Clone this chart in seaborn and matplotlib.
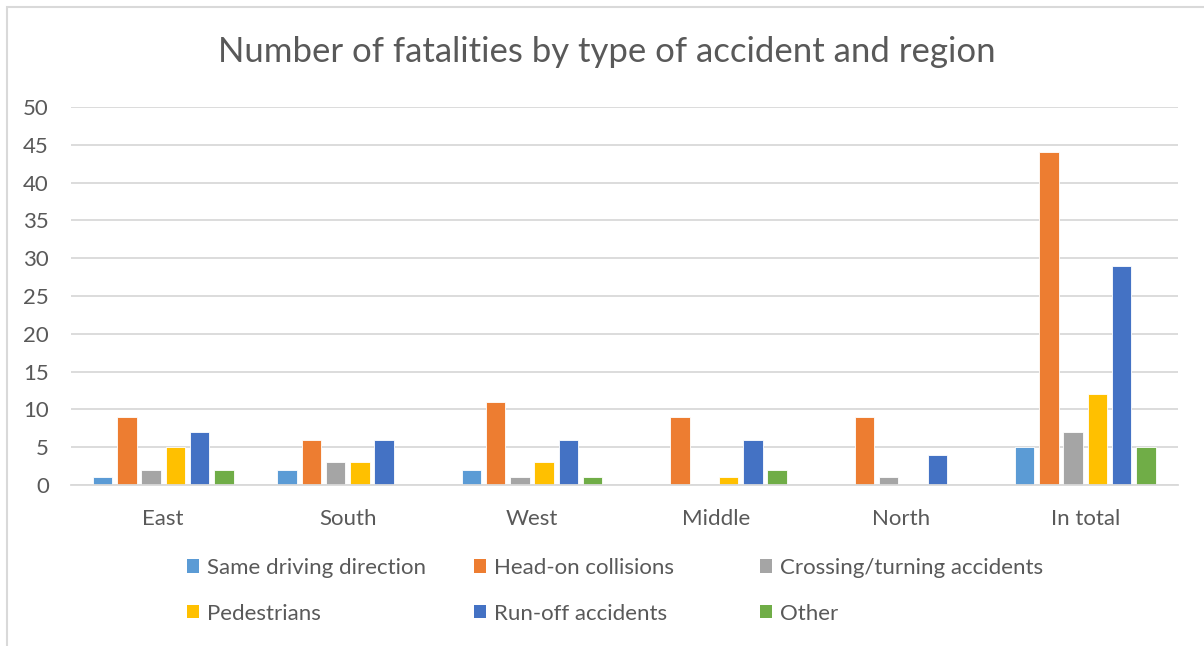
import numpy as np
import pandas as pd
import matplotlib
matplotlib.use('Agg')
import matplotlib.pyplot as plt
import seaborn as sns
from matplotlib.patches import Rectangle, Patch

# Data
regions = ['East', 'South', 'West', 'Middle', 'North', 'In total']
accident_types = ['Same driving direction', 'Head-on collisions', 'Crossing/turning accidents',
                  'Pedestrians', 'Run-off accidents', 'Other']
same_direction = [1, 2, 2, 0, 0, 5]
head_on = [9, 6, 11, 9, 9, 44]
crossing = [2, 3, 1, 0, 1, 7]
pedestrians = [5, 3, 3, 1, 0, 12]
run_off = [7, 6, 6, 6, 4, 29]
other = [2, 0, 1, 2, 0, 5]
colors = ['#5B9BD5', '#ED7D31', '#A5A5A5', '#FFC000', '#4472C4', '#70AD47']

series = [same_direction, head_on, crossing, pedestrians, run_off, other]
df = pd.DataFrame({
    'region': np.repeat([regions], len(accident_types), axis=0).ravel(),
    'type': np.repeat(accident_types, len(regions)),
    'value': np.concatenate(series),
})

sns.set_theme(style='white')
plt.rcParams['font.family'] = ['Lato', 'DejaVu Sans']
text_col = '#595959'

fig = plt.figure(figsize=(12.04, 6.46), dpi=100)
ax = fig.add_axes([0.059, 0.2492, 0.919, 0.5852])

sns.barplot(data=df, x='region', y='value', hue='type', order=regions,
            hue_order=accident_types, palette=colors, saturation=1,
            width=0.79, gap=0.2, edgecolor='white', linewidth=0.6,
            legend=False, ax=ax)

ax.set_ylim(0, 50)
ax.set_yticks(range(0, 51, 5))
ax.set_xlim(-0.5, len(regions) - 0.5)
ax.yaxis.grid(True, color='#D9D9D9', linewidth=1.3)
ax.set_axisbelow(True)
for s in ['top', 'right', 'left']:
    ax.spines[s].set_visible(False)
ax.spines['bottom'].set_color('#D9D9D9')
ax.spines['bottom'].set_linewidth(1.3)
ax.tick_params(axis='both', length=0, labelsize=16, labelcolor=text_col)
ax.tick_params(axis='y', pad=16)
ax.tick_params(axis='x', pad=17)
ax.set_xlabel('')
ax.set_ylabel('')

fig.text(0.504, 0.919, 'Number of fatalities by type of accident and region',
         ha='center', va='center', fontsize=25, color=text_col)

# legend laid out in three equal columns like Excel
col_x = [187, 474, 760]
for i, x in enumerate(col_x):
    idx = [i, i + 3]
    handles = [Patch(facecolor=colors[j], edgecolor='none') for j in idx]
    labels = [accident_types[j] for j in idx]
    fig.legend(handles, labels, loc='upper left',
               bbox_to_anchor=(x / 1204, 1 - 558 / 646), frameon=False,
               fontsize=16, labelcolor=text_col, handlelength=0.55,
               handleheight=0.55, handletextpad=0.35, labelspacing=1.15,
               borderpad=0, borderaxespad=0)

# outer chart frame (cropped at right and bottom)
fig.patches.append(Rectangle((7 / 1204, -0.1), 1.2, 1 - 7 / 646 + 0.1,
                             transform=fig.transFigure, fill=False,
                             edgecolor='#D9D9D9', linewidth=1.5))

fig.savefig('out.png', dpi=100, facecolor='white')
